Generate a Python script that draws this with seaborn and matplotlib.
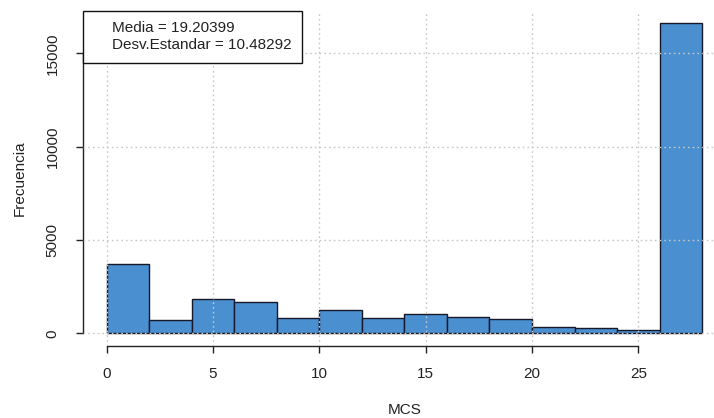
import matplotlib
matplotlib.use("Agg")
import matplotlib.pyplot as plt
import seaborn as sns
from matplotlib.lines import Line2D

# histogram of MCS, bins of width 2
bin_edges = [0, 2, 4, 6, 8, 10, 12, 14, 16, 18, 20, 22, 24, 26, 28]
bin_left = bin_edges[:-1]
counts = [3720, 710, 1845, 1650, 830, 1240, 815, 1030, 885, 760, 355, 280, 180, 16620]
stats_labels = ["Media = 19.20399", "Desv.Estandar = 10.48292"]
x_ticks = [0, 5, 10, 15, 20, 25]
y_ticks = [0, 5000, 10000, 15000]

sns.set_style("white")
plt.rcParams['font.family'] = ['Liberation Sans', 'DejaVu Sans']

W, H = 714, 418
fs = 11
fig = plt.figure(figsize=(W / 100, H / 100), dpi=100)
# plot region in pixels (R-style, 4% padding on each side)
left_px, right_px, top_px, bottom_px = 82.7, 726, 10.6, 345.7
ax = fig.add_axes([left_px / W, 1 - bottom_px / H,
                   (right_px - left_px) / W, (bottom_px - top_px) / H])

sns.histplot(x=bin_left, weights=counts, bins=bin_edges, ax=ax,
             color="#4a8fcf", edgecolor="#15192a", linewidth=1.0, alpha=1)

xspan = bin_edges[-1] - bin_edges[0]
ax.set_xlim(bin_edges[0] - 0.04 * xspan, bin_edges[-1] + 0.04 * xspan)
ymax = max(counts)
ax.set_ylim(-0.04 * ymax, 1.04 * ymax)

ax.set_xticks(x_ticks)
ax.set_yticks(y_ticks)
ax.set_xticklabels([str(t) for t in x_ticks])
ax.set_yticklabels([str(t) for t in y_ticks], rotation=90, va='center')

# dotted light grid on top of the bars
ax.set_axisbelow(False)
ax.grid(True, color="#c8c8c8", linestyle=(0, (1.2, 2.2)), linewidth=1.0)

for s in ['top', 'right']:
    ax.spines[s].set_visible(False)
ax.spines['left'].set_bounds(y_ticks[0], y_ticks[-1])
ax.spines['bottom'].set_bounds(x_ticks[0], x_ticks[-1])
for s in ['left', 'bottom']:
    ax.spines[s].set_color("#222222")
    ax.spines[s].set_linewidth(1.0)

ax.tick_params(axis='both', direction='out', length=5, width=1.0,
               color="#222222", labelsize=fs, labelcolor="#222222")
ax.tick_params(axis='x', pad=10.5, bottom=True)
ax.tick_params(axis='y', pad=11.5, left=True)

ax.set_xlabel("")
ax.set_ylabel("")
fig.text((left_px + right_px) / 2 / W, 1 - 410 / H, "MCS", ha='center',
         va='center', fontsize=fs, color="#222222")
fig.text(20 / W, 1 - (top_px + bottom_px) / 2 / H, "Frecuencia", ha='center',
         va='center', rotation=90, fontsize=fs, color="#222222")

handles = [Line2D([], [], linestyle='none') for _ in stats_labels]
leg = ax.legend(handles, stats_labels, loc='upper left', borderaxespad=0,
                fontsize=fs, frameon=True, fancybox=False, shadow=False,
                handlelength=0.9, handletextpad=0.3, borderpad=0.7,
                labelspacing=0.2, framealpha=1)
leg.get_frame().set_edgecolor("#111111")
leg.get_frame().set_linewidth(1.0)
for t in leg.get_texts():
    t.set_color("#222222")

fig.savefig("out.png", dpi=100)
